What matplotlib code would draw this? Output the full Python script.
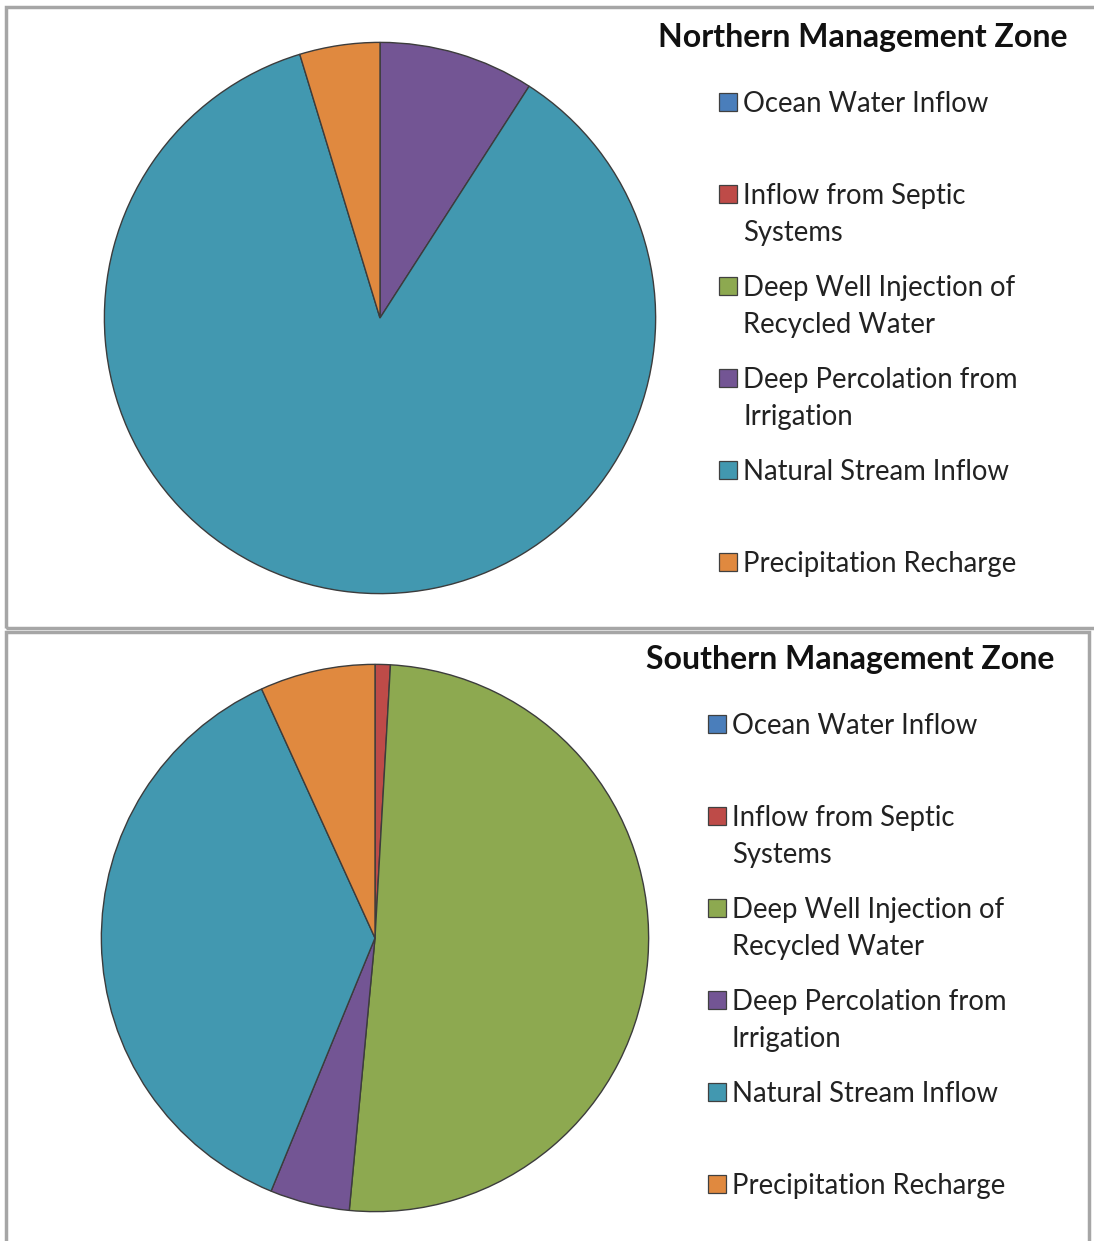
import matplotlib.pyplot as plt
from matplotlib.patches import Rectangle

plt.rcParams['font.family'] = ['Lato', 'DejaVu Sans']

# recharge components, percent of total inflow
categories = ['Ocean Water Inflow', 'Inflow from Septic\nSystems',
              'Deep Well Injection of\nRecycled Water',
              'Deep Percolation from\nIrrigation', 'Natural Stream Inflow',
              'Precipitation Recharge']
northern = [0, 0, 0, 9.1, 86.2, 4.7]
southern = [0, 0.9, 50.6, 4.7, 37.0, 6.8]
titles = ['Northern Management Zone', 'Southern Management Zone']

colors = ['#4A7EBB', '#BE4B48', '#8DA950', '#735594', '#4298B0', '#E0893F']

W, H = 1094, 1241
fig = plt.figure(figsize=(W / 100, H / 100), dpi=100)
fig.patch.set_facecolor('white')

# panel frames
border = '#A6A6A6'
fig.add_artist(Rectangle((6 / W, 1 - 628 / H), 1.2, (628 - 7) / H,
                         transform=fig.transFigure, fill=False,
                         edgecolor=border, linewidth=2.5))
fig.add_artist(Rectangle((6 / W, -0.1), (1089 - 6) / W, 0.1 + (1241 - 632) / H,
                         transform=fig.transFigure, fill=False,
                         edgecolor=border, linewidth=2.5))


def px_axes(cx, cy, r):
    return fig.add_axes([(cx - r) / W, 1 - (cy + r) / H, 2 * r / W, 2 * r / H])


panels = [
    # values, pie centre/radius, title centre, legend x, first legend row y
    (northern, (380, 318, 277), (863, 37), 719, 102),
    (southern, (375, 938, 275), (850, 660), 708, 724),
]

for (vals, (cx, cy, r), (tx, ty), lx, ly), title in zip(panels, titles):
    ax = px_axes(cx, cy, r)
    ax.pie(vals, colors=colors, startangle=90, counterclock=False, radius=1,
           wedgeprops=dict(edgecolor='#3C3C3C', linewidth=1.0))
    ax.set_xlim(-1.005, 1.005)
    ax.set_ylim(-1.005, 1.005)

    fig.text(tx / W, 1 - ty / H, title, ha='center', va='center',
             fontsize=23, fontweight='bold', color='#111111')

    step = 92
    for i, (lab, col) in enumerate(zip(categories, colors)):
        y = ly + i * step
        fig.add_artist(Rectangle((lx / W, 1 - (y + 9) / H), 18 / W, 18 / H,
                                 transform=fig.transFigure, facecolor=col,
                                 edgecolor='#404040', linewidth=0.9))
        fig.text((lx + 24) / W, 1 - (y - 11) / H, lab, ha='left', va='top',
                 fontsize=19.8, color='#222222', linespacing=1.5)

fig.savefig('out.png', dpi=100, facecolor='white')
